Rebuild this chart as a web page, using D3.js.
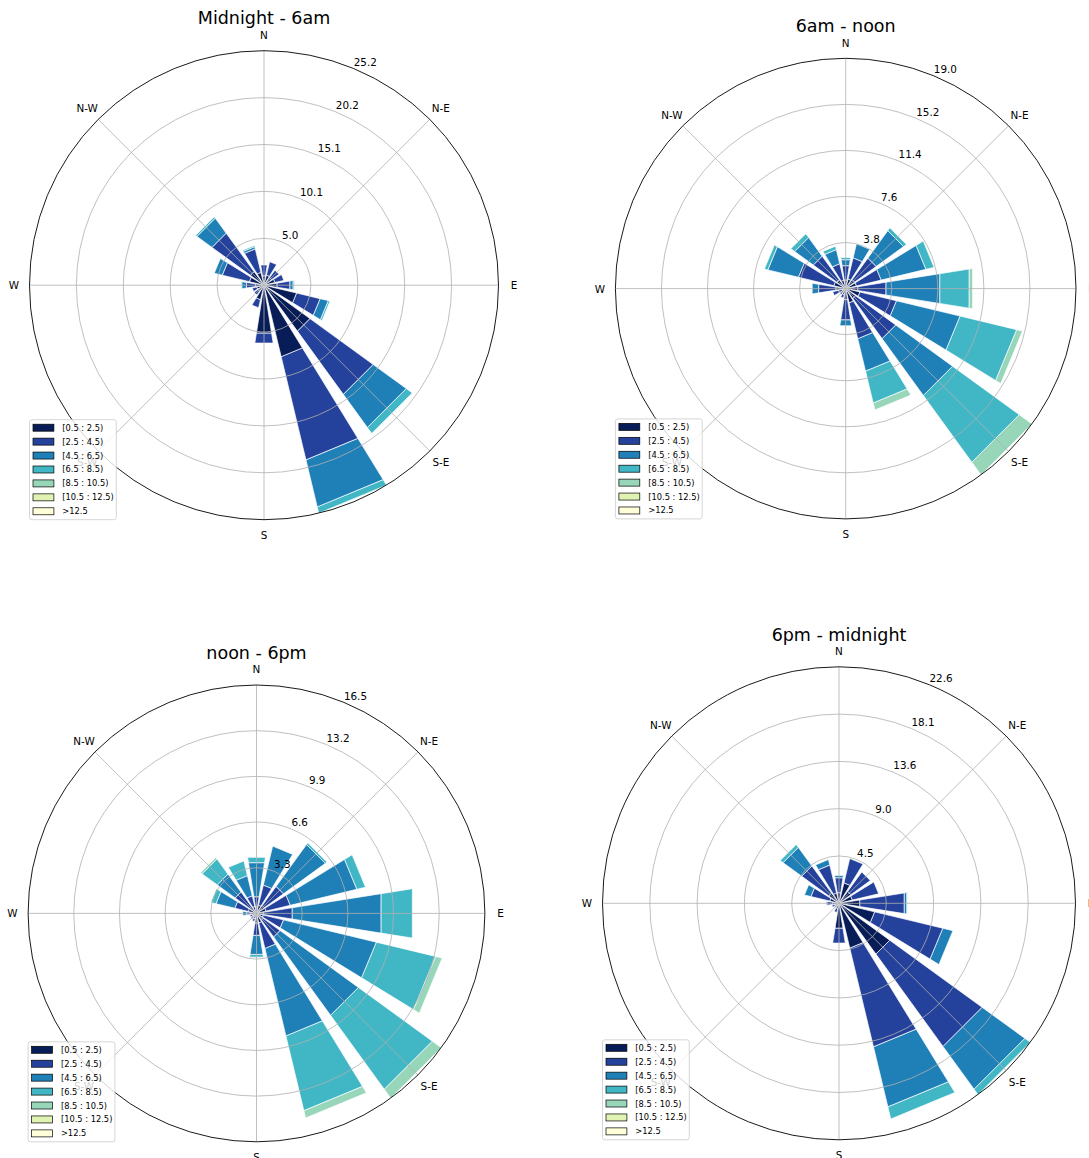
<!DOCTYPE html>
<html>
<head>
<meta charset="utf-8">
<script src="https://cdn.jsdelivr.net/npm/d3@7"></script>
<style>
  html, body { margin: 0; padding: 0; background: #fff; }
  svg { display: block; font-family: "DejaVu Sans", "Liberation Sans", sans-serif; }
</style>
</head>
<body>
<svg id="chart" width="1089" height="1158"></svg>
<script>
// Sixteen compass sectors, clockwise from north
const sectors = ["N", "NNE", "NE", "ENE", "E", "ESE", "SE", "SSE",
                 "S", "SSW", "SW", "WSW", "W", "WNW", "NW", "NNW"];

// Wind speed classes (m/s)
const speedBins = ["[0.5 : 2.5)", "[2.5 : 4.5)", "[4.5 : 6.5)", "[6.5 : 8.5)",
                   "[8.5 : 10.5)", "[10.5 : 12.5)", ">12.5"];

const compassLabels = ["N", "N-E", "E", "S-E", "S", "S-W", "W", "N-W"];

const periodTitles = ["Midnight - 6am", "6am - noon", "noon - 6pm", "6pm - midnight"];

// Frequency (%) — one row per sector, one column per speed class
const midnightTo6am = [
  [1.0, 1.2, 0, 0, 0, 0, 0],
  [1.1, 1.5, 0, 0, 0, 0, 0],
  [1.0, 1.0, 0, 0, 0, 0, 0],
  [1.2, 1.0, 0, 0, 0, 0, 0],
  [1.4, 1.4, 0.35, 0.15, 0, 0, 0],
  [3.6, 2.6, 0.9, 0.2, 0, 0, 0],
  [6.1, 8.4, 4.4, 0.8, 0, 0, 0],
  [7.9, 11.4, 5.2, 0.7, 0, 0, 0],
  [5.2, 1.1, 0, 0, 0, 0, 0],
  [1.6, 0.9, 0, 0, 0, 0, 0],
  [0.8, 0.5, 0, 0, 0, 0, 0],
  [0.8, 0.5, 0, 0, 0, 0, 0],
  [0.9, 1.0, 0.5, 0.1, 0, 0, 0],
  [1.6, 3.0, 0.9, 0, 0, 0, 0],
  [1.8, 5.1, 2.0, 0.2, 0, 0, 0],
  [1.4, 2.6, 0.25, 0.15, 0, 0, 0]
];

const sixamToNoon = [
  [0.7, 1.2, 0.5, 0.2, 0, 0, 0],
  [0.8, 1.8, 1.2, 0, 0, 0, 0],
  [0.9, 2.2, 2.8, 0.3, 0, 0, 0],
  [0.9, 2.1, 3.8, 0.7, 0, 0, 0],
  [1.0, 2.35, 4.5, 2.45, 0.3, 0, 0],
  [1.2, 3.1, 5.4, 4.8, 0.5, 0, 0],
  [1.0, 4.1, 5.8, 6.8, 1.3, 0, 0],
  [1.2, 3.05, 2.75, 2.7, 0.6, 0, 0],
  [0.9, 1.7, 0.5, 0, 0, 0, 0],
  [0.5, 0.3, 0, 0, 0, 0, 0],
  [0.4, 0.2, 0, 0, 0, 0, 0],
  [0.6, 0.5, 0, 0, 0, 0, 0],
  [0.8, 1.45, 0.55, 0, 0, 0, 0],
  [1.0, 3.0, 2.6, 0.3, 0, 0, 0],
  [0.9, 2.4, 1.9, 0.4, 0, 0, 0],
  [0.7, 1.4, 1.2, 0.3, 0, 0, 0]
];

const noonTo6pm = [
  [0.4, 0.8, 2.5, 0.4, 0, 0, 0],
  [0.6, 1.5, 2.9, 0, 0, 0, 0],
  [0.7, 1.7, 3.75, 0.15, 0, 0, 0],
  [0.7, 1.8, 4.95, 0.65, 0, 0, 0],
  [0.5, 2.1, 6.5, 2.3, 0, 0, 0],
  [0.5, 1.5, 6.9, 4.4, 0.5, 0, 0],
  [0.6, 1.5, 7.0, 6.6, 0.8, 0, 0],
  [0.7, 1.9, 6.5, 5.55, 0.55, 0, 0],
  [0.7, 0.9, 1.4, 0.2, 0, 0, 0],
  [0.4, 0.2, 0, 0, 0, 0, 0],
  [0.3, 0.2, 0, 0, 0, 0, 0],
  [0.3, 0.2, 0, 0, 0, 0, 0],
  [0.4, 0.3, 0.3, 0, 0, 0, 0],
  [0.6, 1.0, 1.4, 0.4, 0, 0, 0],
  [0.6, 1.3, 1.6, 1.35, 0.15, 0, 0],
  [0.5, 0.8, 1.5, 1.1, 0, 0, 0]
];

const sixpmToMidnight = [
  [1.0, 1.45, 0.25, 0, 0, 0, 0],
  [2.0, 2.4, 0, 0, 0, 0, 0],
  [1.4, 2.3, 0, 0, 0, 0, 0],
  [1.3, 2.6, 0, 0, 0, 0, 0],
  [2.0, 4.3, 0.25, 0.05, 0, 0, 0],
  [3.5, 6.7, 1.0, 0, 0, 0, 0],
  [6.0, 10.9, 5.05, 0.65, 0, 0, 0],
  [4.4, 9.7, 5.9, 1.2, 0, 0, 0],
  [2.4, 1.45, 0, 0, 0, 0, 0],
  [0.5, 0.4, 0, 0, 0, 0, 0],
  [0.3, 0.2, 0, 0, 0, 0, 0],
  [0.4, 0.3, 0, 0, 0, 0, 0],
  [0.6, 0.55, 0.1, 0, 0, 0, 0],
  [0.9, 1.85, 0.65, 0, 0, 0, 0],
  [1.2, 3.2, 2.2, 0.35, 0, 0, 0],
  [1.0, 2.75, 0.55, 0, 0, 0, 0]
];

const periodTables = [midnightTo6am, sixamToNoon, noonTo6pm, sixpmToMidnight];

// Reversed YlGnBu sampled at seven evenly spaced stops
const binColors = ["#081d58", "#24429b", "#1f80b8", "#41b6c4", "#97d6b9", "#e0f3b2", "#ffffd9"];

// Polar axes placement for each period: centre and outer radius
const layout = [
  { cx: 264.0, cy: 285.2, r: 234.5 },
  { cx: 845.7, cy: 288.6, r: 230.3 },
  { cx: 256.5, cy: 913.4, r: 228.4 },
  { cx: 839.0, cy: 903.3, r: 236.5 }
];

const svg = d3.select("#chart");
const toRad = d => d * Math.PI / 180;
const opening = 0.8;          // fraction of a sector covered by a bar
const fmt = d3.format(".1f");

function drawRose(table, title, box) {
  const g = svg.append("g").attr("transform", `translate(${box.cx},${box.cy})`);
  const R = box.r;

  const totals = table.map(row => d3.sum(row));
  const rmax = d3.max(totals);
  const r = d3.scaleLinear().domain([0, rmax]).range([0, R]);
  const theta = d3.scaleLinear().domain([0, sectors.length]).range([0, 2 * Math.PI]);
  const half = opening * Math.PI / sectors.length;
  const color = d3.scaleOrdinal().domain(speedBins).range(binColors);

  // stacked segments
  const segments = [];
  table.forEach((row, j) => {
    let base = 0;
    row.forEach((v, i) => {
      if (v > 0) segments.push({ sector: j, bin: i, r0: base, r1: base + v });
      base += v;
    });
  });
  // lower classes sit on top, as in the windrose stacking order
  segments.sort((a, b) => b.bin - a.bin);

  g.append("g").selectAll("path")
    .data(segments)
    .join("path")
    .attr("d", s => {
      const a = theta(s.sector);
      const pts = [
        d3.pointRadial(a - half, r(s.r0)),
        d3.pointRadial(a + half, r(s.r0)),
        d3.pointRadial(a + half, r(s.r1)),
        d3.pointRadial(a - half, r(s.r1))
      ];
      return "M" + pts.map(p => p.join(",")).join("L") + "Z";
    })
    .attr("fill", s => color(speedBins[s.bin]))
    .attr("stroke", "#fff")
    .attr("stroke-width", 0.7)
    .attr("stroke-linejoin", "miter");

  // radial grid
  const ringValues = d3.range(1, 6).map(k => rmax * k / 5);
  const grid = g.append("g").attr("fill", "none").attr("stroke", "#b0b0b0").attr("stroke-width", 0.8);
  grid.selectAll("circle")
    .data(ringValues.slice(0, 4))
    .join("circle")
    .attr("r", d => r(d));
  grid.selectAll("line")
    .data(d3.range(8).map(k => toRad(k * 45)))
    .join("line")
    .attr("x1", 0).attr("y1", 0)
    .attr("x2", a => d3.pointRadial(a, R)[0])
    .attr("y2", a => d3.pointRadial(a, R)[1]);

  // outer frame
  g.append("circle").attr("r", R).attr("fill", "none")
    .attr("stroke", "#000").attr("stroke-width", 0.9);

  // ring labels along 22.5°
  g.append("g").selectAll("text")
    .data(ringValues)
    .join("text")
    .attr("x", d => d3.pointRadial(toRad(22.5), r(d))[0])
    .attr("y", d => d3.pointRadial(toRad(22.5), r(d))[1] - 2.8)
    .attr("font-size", 10.4)
    .attr("fill", "#000")
    .text(d => fmt(d));

  // compass labels
  g.append("g").selectAll("text")
    .data(compassLabels)
    .join("text")
    .attr("x", (d, k) => d3.pointRadial(toRad(k * 45), R + 15.6)[0])
    .attr("y", (d, k) => d3.pointRadial(toRad(k * 45), R + 15.6)[1])
    .attr("text-anchor", "middle")
    .attr("dominant-baseline", "central")
    .attr("font-size", 10.4)
    .attr("fill", "#000")
    .text(d => d);

  // title
  g.append("text")
    .attr("x", 0)
    .attr("y", -R - 32.3)
    .attr("text-anchor", "middle")
    .attr("dominant-baseline", "central")
    .attr("font-size", 17.5)
    .attr("fill", "#000")
    .text(title);

  // legend, lower left of the axes box
  const lw = 86.8, lh = 100, step = 13.93;
  const leg = g.append("g").attr("transform", `translate(${-R},${R - lh})`);
  leg.append("rect")
    .attr("x", 0).attr("y", 0).attr("width", lw).attr("height", lh)
    .attr("rx", 2.5)
    .attr("fill", "#fff").attr("fill-opacity", 0.8)
    .attr("stroke", "#cccccc").attr("stroke-width", 0.8);
  const item = leg.selectAll("g.item")
    .data(speedBins)
    .join("g")
    .attr("class", "item")
    .attr("transform", (d, i) => `translate(0,${8 + i * step})`);
  item.append("rect")
    .attr("x", 3.5).attr("y", -3.5).attr("width", 20.9).attr("height", 7)
    .attr("fill", d => color(d))
    .attr("stroke", "#000").attr("stroke-width", 0.7);
  item.append("text")
    .attr("x", 32.8).attr("y", 0)
    .attr("dominant-baseline", "central")
    .attr("font-size", 8.3)
    .attr("fill", "#000")
    .text(d => d);
}

periodTables.forEach((table, k) => drawRose(table, periodTitles[k], layout[k]));
</script>
</body>
</html>
